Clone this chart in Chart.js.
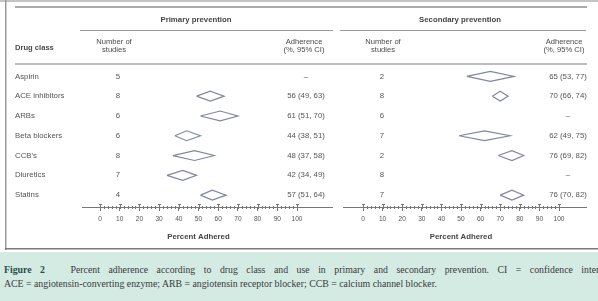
<!DOCTYPE html>
<html><head><meta charset="utf-8">
<script src="https://cdn.jsdelivr.net/npm/chart.js@4/dist/chart.umd.min.js"></script>
<style>
html,body{margin:0;padding:0;width:598px;height:301px;overflow:hidden;background:#fff;}
#panel{position:absolute;left:0;top:0;width:598px;height:252px;background:#fff;}
#panel canvas{position:absolute;left:0;top:0;}
#cap{position:absolute;left:0;top:252px;width:598px;height:49px;background:#d3ebe3;font-family:"Liberation Serif","Times New Roman",serif;font-size:9.8px;color:#3a3a3a;overflow:hidden;}
#cap .l{position:absolute;left:4px;white-space:nowrap;}
#cap .l1{top:12px;width:610px;white-space:normal;text-align:justify;text-align-last:justify;height:13px;overflow:hidden;}
#cap .l2{top:26px;}
#cap b{color:#2d4f48;}
</style></head>
<body>
<div id="panel"><canvas id="c1" width="598" height="252"></canvas><canvas id="c2" width="598" height="252"></canvas></div>
<div id="cap">
<div class="l l1"><b>Figure 2</b>&nbsp;&nbsp; Percent adherence according to drug class and use in primary and secondary prevention. CI = confidence interval;</div>
<div class="l l2">ACE = angiotensin-converting enzyme; ARB = angiotensin receptor blocker; CCB = calcium channel blocker.</div>
</div>
<script>
const drugClasses = ["Aspirin","ACE inhibitors","ARBs","Beta blockers","CCB's","Diuretics","Statins"];
const primaryStudies = [5,8,6,6,8,7,4];
const primaryMean = [null,56,61,44,48,42,57];
const primaryLow  = [null,49,51,38,37,34,51];
const primaryHigh = [null,63,70,51,58,49,64];
const secondaryStudies = [2,8,6,7,2,8,7];
const secondaryMean = [65,70,null,62,76,null,76];
const secondaryLow  = [53,66,null,49,69,null,70];
const secondaryHigh = [77,74,null,75,82,null,82];
const xTickValues = [0,10,20,30,40,50,60,70,80,90,100];
const axisTitle = "Percent Adhered";

const FONT = '"Liberation Sans", Arial, sans-serif';
const TXT = '#555';
const DIAMOND = '#7f87a3';

function fmt(m,l,h){ return m==null ? '\u2013' : m + ' (' + l + ', ' + h + ')'; }

function diamonds(mean, low, high){
  const sets = [];
  mean.forEach((m,i)=>{
    if (m==null) return;
    const hh = 0.25;
    sets.push({
      data:[{x:low[i],y:i},{x:m,y:i-hh},{x:high[i],y:i},{x:m,y:i+hh},{x:low[i],y:i}],
      showLine:true, borderColor:DIAMOND, borderWidth:1.2, pointRadius:0, fill:false, tension:0
    });
  });
  return sets;
}

function makePlugin(cfg){
  return {
    id:'panel_'+cfg.key,
    afterDraw(chart){
      const ctx = chart.ctx, ys = chart.scales.y, xs = chart.scales.x;
      ctx.save();
      if (cfg.frame){
        ctx.fillStyle='#c4c4c4'; ctx.fillRect(0,0,598,2);
        ctx.fillStyle='#9a9a9a'; ctx.fillRect(5,0,1.5,250);
        ctx.fillStyle='#a9a9a9'; ctx.fillRect(15,6,572,2);
        ctx.fillStyle='#bdbdbd'; ctx.fillRect(15,63,572,2);
        ctx.fillStyle='#7a7a7a'; ctx.fillRect(5,248,593,1.5);
      }
      ctx.fillStyle='#9c9c9c'; ctx.fillRect(cfg.ruleFrom,30,cfg.ruleTo-cfg.ruleFrom,1);
      ctx.fillStyle='#444'; ctx.textBaseline='middle'; ctx.textAlign='center';
      ctx.font='bold 7.8px '+FONT;
      ctx.fillText(cfg.title, cfg.titleX, 20);
      ctx.font='7.6px '+FONT; ctx.fillStyle='#4a4a4a';
      ctx.fillText('Number of', cfg.studiesHX, 42);
      ctx.fillText('studies', cfg.studiesHX, 50);
      ctx.fillText('Adherence', cfg.adhHX, 42);
      ctx.fillText('(%, 95% CI)', cfg.adhHX, 50);
      if (cfg.frame){
        ctx.textAlign='left'; ctx.font='bold 7.6px '+FONT;
        ctx.fillText('Drug class', 15, 48);
      }
      ctx.font='7.8px '+FONT; ctx.fillStyle=TXT;
      drugClasses.forEach((d,i)=>{
        const y = ys.getPixelForValue(i);
        if (cfg.frame){ ctx.textAlign='left'; ctx.fillText(d, 15, y); }
        ctx.textAlign='center';
        ctx.fillText(String(cfg.studies[i]), cfg.studiesX, y);
        ctx.fillText(fmt(cfg.mean[i],cfg.low[i],cfg.high[i]), cfg.adhX, y);
      });
      const ay = Math.round(xs.top)+0.5;
      ctx.strokeStyle='#777'; ctx.lineWidth=1;
      ctx.beginPath(); ctx.moveTo(cfg.axisFrom, ay); ctx.lineTo(cfg.axisTo, ay); ctx.stroke();
      ctx.beginPath();
      for (let v=0; v<=100; v+=2){
        const x = Math.round(xs.getPixelForValue(v))+0.5;
        ctx.moveTo(x, ay-1.5); ctx.lineTo(x, ay+1.5);
      }
      xTickValues.forEach(v=>{
        const x = Math.round(xs.getPixelForValue(v))+0.5;
        ctx.moveTo(x-1.5, ay-3); ctx.lineTo(x+1.5, ay-3);
        ctx.moveTo(x, ay-3); ctx.lineTo(x, ay);
      });
      ctx.stroke();
      ctx.restore();
    }
  };
}

function makeChart(id, datasets, padL, padR, plugin){
  return new Chart(document.getElementById(id), {
    type:'scatter',
    data:{datasets},
    options:{
      responsive:false, animation:false, devicePixelRatio:1,
      layout:{padding:{left:padL,right:padR,top:17,bottom:0}},
      plugins:{legend:{display:false},tooltip:{enabled:false}},
      scales:{
        x:{type:'linear',position:'bottom',min:0,max:100,
           afterBuildTicks:(s)=>{ s.ticks = xTickValues.map(v=>({value:v})); },
           ticks:{font:{size:6.6,family:FONT},color:'#555',padding:4,maxRotation:0,autoSkip:false},
           grid:{display:true,drawOnChartArea:false,drawTicks:true,tickLength:4,color:'#777'},
           border:{display:false},
           title:{display:true,text:axisTitle,font:{size:7.8,weight:'bold',family:FONT},color:'#444',padding:{top:0,bottom:10}},
           afterFit:(s)=>{ s.height = 45; }
        },
        y:{type:'linear',reverse:true,min:-3,max:6.6,display:false}
      }
    },
    plugins:[plugin]
  });
}

makeChart('c1', diamonds(primaryMean,primaryLow,primaryHigh), 100, 301, makePlugin({
  key:'p', frame:true, title:'Primary prevention', titleX:196, ruleFrom:80, ruleTo:333,
  studiesHX:114, studiesX:118, adhHX:304, adhX:306,
  studies:primaryStudies, mean:primaryMean, low:primaryLow, high:primaryHigh,
  axisFrom:82, axisTo:333
}));
makeChart('c2', diamonds(secondaryMean,secondaryLow,secondaryHigh), 363, 39, makePlugin({
  key:'s', frame:false, title:'Secondary prevention', titleX:460, ruleFrom:340, ruleTo:586,
  studiesHX:383, studiesX:382, adhHX:564, adhX:568,
  studies:secondaryStudies, mean:secondaryMean, low:secondaryLow, high:secondaryHigh,
  axisFrom:343, axisTo:587
}));
</script>
</body></html>
